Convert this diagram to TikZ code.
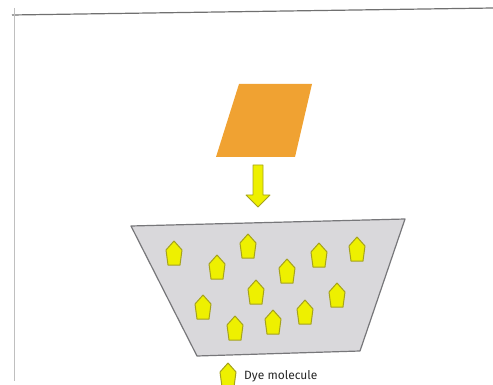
\documentclass[tikz,border=0pt]{standalone}
\usepackage{fontspec}
\setmainfont{Fira Sans}
\definecolor{slab}{HTML}{F0A232}
\definecolor{dyefill}{HTML}{EEF000}
\definecolor{dyeedge}{HTML}{A5A21E}
\definecolor{bath}{HTML}{D9D8DB}
\definecolor{bathedge}{HTML}{77777A}
\definecolor{frame}{HTML}{707070}
\tikzset{
  dyestyle/.style={fill=dyefill, draw=dyeedge, line width=1pt, line join=round},
  dye/.pic={\draw[dyestyle] (0,-12) -- (8,-3) -- (6,12) -- (-6,12) -- (-8,-3) -- cycle;},
  labeltext/.style={font=\fontsize{12}{14}\selectfont, text=black!85, inner sep=0pt, anchor=west}
}
\begin{document}
\begin{tikzpicture}[x=1pt,y=-1pt]
\useasboundingbox (0,0) rectangle (493,385);
% frame
\coordinate (tl) at (12,15);
\coordinate (tr) at (493,8);
\coordinate (lt) at (14,8);
\coordinate (lb) at (14,381);
\draw[frame, line width=1.2pt] (tl) -- (tr);
\draw[black!25, line width=1pt] (lt) -- (lb);
% orange slab
\fill[slab] (239,84) -- (312,84) -- (295,157) -- (216,157) -- cycle;
% block arrow
\draw[fill=dyefill, draw=dyeedge, line width=0.8pt, line join=round]
  (253,165) -- (263,165) -- (263,195) -- (270,195) -- (258,207) -- (246,195) -- (253,195) -- cycle;
% bath
\draw[fill=bath, draw=bathedge, line width=1.2pt, line join=round]
  (131,226) -- (405,219) -- (360,351) -- (197,356) -- cycle;
% dye molecules
\foreach \p in {(174,253),(248,246),(217,267),(287,271),(319,255),(357,249),
                (256,292),(203,307),(337,295),(305,312),(273,322),(235,328)}
  \pic at \p {dye};
% legend
\pic at (228,375) {dye};
\node[labeltext] (legend) at (244,376) {Dye molecule};
\end{tikzpicture}
\end{document}
